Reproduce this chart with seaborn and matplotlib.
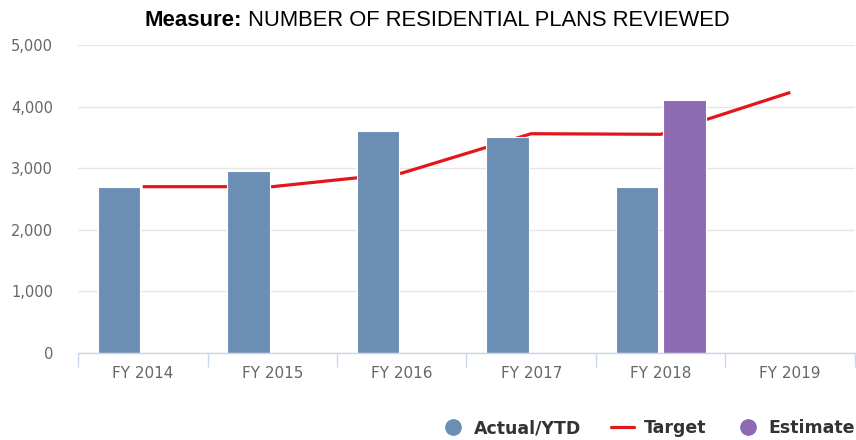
import numpy as np
import pandas as pd
import seaborn as sns
import matplotlib.pyplot as plt
from matplotlib.lines import Line2D
from matplotlib.ticker import FuncFormatter, FixedLocator

years = ['FY 2014', 'FY 2015', 'FY 2016', 'FY 2017', 'FY 2018', 'FY 2019']
actual = [2700, 2960, 3600, 3500, 2700, np.nan]
estimate = [np.nan, np.nan, np.nan, np.nan, 4110, np.nan]
target = [2700, 2700, 2920, 3560, 3550, 4230]

c_actual = '#6b8eb5'
c_est = '#8d6bb2'
c_target = '#e3161c'

sns.set_style('white')
plt.rcParams['font.family'] = ['DejaVu Sans']

# long table for the bars
df = pd.DataFrame({'year': years * 2,
                   'value': actual + estimate,
                   'series': ['Actual/YTD'] * len(years) + ['Estimate'] * len(years)})
df = df.dropna()

W, H = 856, 440
fig = plt.figure(figsize=(W / 100, H / 100), dpi=100)
ax = fig.add_axes([78 / W, (H - 353) / H, 777 / W, 308 / H])

sns.barplot(data=df, x='year', y='value', hue='series', order=years,
            hue_order=['Actual/YTD', 'Estimate'],
            palette={'Actual/YTD': c_actual, 'Estimate': c_est},
            width=0.73, gap=0.1, errorbar=None, legend=False, saturation=1,
            edgecolor='white', linewidth=0.8, zorder=3, ax=ax)

# target line sits behind the bars
ax.plot(np.arange(len(years)), target, color=c_target, lw=2.3, zorder=2,
        solid_capstyle='butt')

ax.set_xlim(-0.5, len(years) - 0.5)
ax.set_ylim(0, 5000)
ax.set_yticks(range(0, 5001, 1000))
ax.yaxis.set_major_formatter(FuncFormatter(lambda v, p: f'{int(v):,}'))
ax.grid(axis='y', color='#e6e6e6', lw=1, zorder=0)
ax.grid(axis='x', visible=False)
ax.set_xlabel('')
ax.set_ylabel('')

for s in ['top', 'right', 'left']:
    ax.spines[s].set_visible(False)
ax.spines['bottom'].set_color('#ccd6eb')
ax.spines['bottom'].set_linewidth(1)
ax.spines['bottom'].set_zorder(4)

ax.xaxis.set_minor_locator(FixedLocator(np.arange(-0.5, len(years), 1.0)))
ax.tick_params(axis='x', which='minor', bottom=True, length=10, width=1,
               color='#ccd6eb', direction='out')
ax.tick_params(axis='x', which='major', length=0, pad=9.5, labelsize=11,
               labelcolor='#666666')
ax.tick_params(axis='y', length=0, pad=18, labelsize=10.5, labelcolor='#666666')

# title: bold "Measure:" followed by regular text, centred as a whole
ty = 1 - 26 / H
t1 = fig.text(0, ty, 'Measure:', fontsize=16, fontweight='bold',
              family=['Liberation Sans', 'DejaVu Sans'], va='baseline', color='black')
t2 = fig.text(0, ty, '\u00a0NUMBER OF RESIDENTIAL PLANS REVIEWED', fontsize=15.8,
              family=['Liberation Sans', 'DejaVu Sans'], va='baseline', color='black')
fig.canvas.draw()
r = fig.canvas.get_renderer()
w1 = t1.get_window_extent(r).width
w2 = t2.get_window_extent(r).width
start = 437 - (w1 + w2) / 2
t1.set_x(start / W)
t2.set_x((start + w1) / W)

handles = [Line2D([], [], marker='o', ls='', markersize=11, color=c_actual),
           Line2D([], [], color=c_target, lw=2.3),
           Line2D([], [], marker='o', ls='', markersize=11, color=c_est)]
fig.legend(handles, ['Actual/YTD', 'Target', 'Estimate'], ncol=3,
           loc='center right', bbox_to_anchor=(855 / W, 1 - 428 / H),
           frameon=False, handlelength=1.3, handletextpad=0.55,
           columnspacing=1.75, borderaxespad=0, borderpad=0,
           prop={'weight': 'bold', 'size': 12.5}, labelcolor='#333333')

fig.savefig('out.png', dpi=100)
